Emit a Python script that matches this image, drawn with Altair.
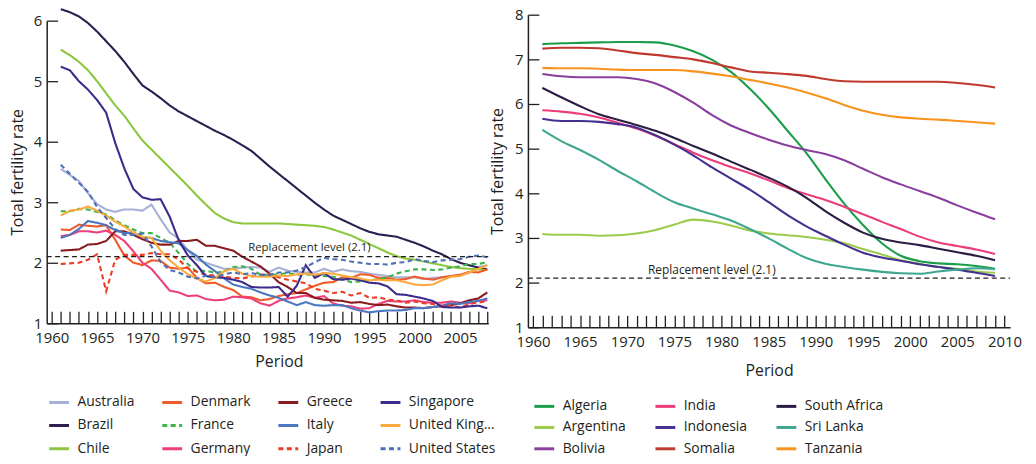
import altair as alt
import pandas as pd

FONT = "Open Sans"
INK = "#231f20"

# ---------------- left panel: developed / fast-transition countries ----------------
left_years = list(range(1961, 2009))
australia = [3.55, 3.45, 3.35, 3.15, 2.97, 2.88, 2.84, 2.88, 2.88, 2.86,
             2.96, 2.72, 2.50, 2.40, 2.20, 2.05, 2.00, 1.95, 1.90, 1.90,
             1.92, 1.93, 1.92, 1.85, 1.92, 1.87, 1.85, 1.84, 1.84, 1.90,
             1.85, 1.89, 1.86, 1.85, 1.82, 1.80, 1.78, 1.76, 1.76, 1.76,
             1.73, 1.75, 1.76, 1.78, 1.80, 1.83, 1.93, 1.96]
brazil = [6.19, 6.14, 6.07, 5.96, 5.82, 5.66, 5.50, 5.32, 5.12, 4.93,
          4.83, 4.72, 4.60, 4.50, 4.42, 4.34, 4.26, 4.18, 4.11, 4.03,
          3.94, 3.85, 3.72, 3.59, 3.47, 3.35, 3.23, 3.11, 2.99, 2.88,
          2.78, 2.71, 2.64, 2.57, 2.51, 2.47, 2.45, 2.43, 2.38, 2.33,
          2.27, 2.20, 2.14, 2.06, 2.00, 1.96, 1.92, 1.89]
chile = [5.52, 5.43, 5.32, 5.18, 5.00, 4.80, 4.60, 4.43, 4.22, 4.02,
         3.87, 3.72, 3.57, 3.42, 3.27, 3.11, 2.96, 2.82, 2.73, 2.67,
         2.65, 2.65, 2.65, 2.65, 2.65, 2.64, 2.63, 2.62, 2.61, 2.59,
         2.55, 2.50, 2.45, 2.38, 2.31, 2.24, 2.17, 2.11, 2.07, 2.05,
         2.02, 1.99, 1.96, 1.93, 1.91, 1.90, 1.89, 1.88]
denmark = [2.55, 2.54, 2.63, 2.61, 2.60, 2.62, 2.38, 2.12, 2.00, 1.96,
           2.04, 2.03, 1.92, 1.90, 1.92, 1.75, 1.66, 1.67, 1.60, 1.55,
           1.44, 1.43, 1.38, 1.40, 1.45, 1.48, 1.50, 1.56, 1.62, 1.67,
           1.68, 1.76, 1.75, 1.81, 1.80, 1.75, 1.75, 1.72, 1.73, 1.77,
           1.74, 1.72, 1.76, 1.78, 1.80, 1.85, 1.84, 1.89]
france = [2.85, 2.85, 2.89, 2.88, 2.84, 2.80, 2.70, 2.62, 2.55, 2.49,
          2.49, 2.41, 2.33, 2.16, 1.98, 1.85, 1.87, 1.83, 1.86, 1.93,
          1.94, 1.90, 1.80, 1.80, 1.81, 1.83, 1.80, 1.81, 1.79, 1.78,
          1.77, 1.73, 1.68, 1.69, 1.71, 1.73, 1.76, 1.82, 1.86, 1.89,
          1.89, 1.88, 1.89, 1.92, 1.94, 1.98, 1.98, 2.01]
germany = [2.44, 2.46, 2.52, 2.52, 2.50, 2.53, 2.46, 2.36, 2.19, 2.00,
           1.90, 1.72, 1.54, 1.51, 1.45, 1.46, 1.40, 1.38, 1.39, 1.44,
           1.43, 1.41, 1.33, 1.29, 1.37, 1.41, 1.43, 1.46, 1.42, 1.45,
           1.33, 1.29, 1.28, 1.24, 1.25, 1.32, 1.37, 1.36, 1.36, 1.38,
           1.35, 1.34, 1.34, 1.36, 1.34, 1.33, 1.37, 1.38]
greece = [2.20, 2.21, 2.22, 2.30, 2.31, 2.36, 2.52, 2.52, 2.46, 2.39,
          2.33, 2.30, 2.30, 2.36, 2.36, 2.38, 2.28, 2.28, 2.24, 2.20,
          2.10, 2.02, 1.94, 1.82, 1.68, 1.60, 1.50, 1.50, 1.42, 1.39,
          1.38, 1.37, 1.34, 1.35, 1.32, 1.30, 1.31, 1.28, 1.26, 1.26,
          1.25, 1.27, 1.28, 1.30, 1.33, 1.38, 1.41, 1.51]
italy = [2.41, 2.46, 2.56, 2.69, 2.66, 2.62, 2.54, 2.49, 2.50, 2.42,
         2.41, 2.36, 2.34, 2.32, 2.21, 2.11, 1.97, 1.86, 1.74, 1.64,
         1.60, 1.57, 1.51, 1.46, 1.42, 1.36, 1.30, 1.35, 1.30, 1.29,
         1.30, 1.30, 1.25, 1.21, 1.18, 1.20, 1.21, 1.21, 1.22, 1.25,
         1.25, 1.27, 1.29, 1.33, 1.32, 1.35, 1.37, 1.41]
japan = [1.98, 1.99, 2.00, 2.05, 2.14, 1.53, 2.05, 2.13, 2.13, 2.13,
         2.16, 2.14, 2.14, 2.05, 1.91, 1.85, 1.80, 1.79, 1.77, 1.75,
         1.74, 1.77, 1.80, 1.81, 1.76, 1.72, 1.69, 1.66, 1.57, 1.54,
         1.50, 1.52, 1.46, 1.50, 1.42, 1.43, 1.39, 1.38, 1.34, 1.36,
         1.33, 1.32, 1.29, 1.29, 1.26, 1.32, 1.34, 1.37]
singapore = [5.24, 5.18, 5.00, 4.86, 4.69, 4.48, 3.98, 3.56, 3.22, 3.08,
             3.04, 3.05, 2.76, 2.37, 2.12, 1.96, 1.78, 1.76, 1.75, 1.72,
             1.68, 1.60, 1.59, 1.59, 1.60, 1.44, 1.62, 1.96, 1.75, 1.83,
             1.73, 1.72, 1.74, 1.71, 1.67, 1.66, 1.61, 1.48, 1.47, 1.44,
             1.41, 1.37, 1.27, 1.26, 1.26, 1.28, 1.29, 1.25]
united_kingdom = [2.78, 2.86, 2.88, 2.93, 2.86, 2.78, 2.68, 2.60, 2.50, 2.43,
                  2.41, 2.20, 2.04, 1.92, 1.81, 1.74, 1.69, 1.75, 1.86, 1.90,
                  1.82, 1.78, 1.77, 1.77, 1.79, 1.78, 1.81, 1.82, 1.80, 1.83,
                  1.82, 1.79, 1.76, 1.74, 1.71, 1.72, 1.71, 1.71, 1.68, 1.64,
                  1.63, 1.64, 1.71, 1.77, 1.78, 1.84, 1.90, 1.96]
united_states = [3.62, 3.47, 3.32, 3.17, 2.92, 2.74, 2.56, 2.46, 2.46, 2.48,
                 2.27, 2.01, 1.88, 1.84, 1.77, 1.74, 1.79, 1.76, 1.81, 1.84,
                 1.81, 1.83, 1.80, 1.80, 1.84, 1.84, 1.87, 1.93, 2.01, 2.08,
                 2.06, 2.05, 2.02, 2.00, 1.98, 1.98, 1.97, 2.00, 2.01, 2.06,
                 2.03, 2.01, 2.04, 2.05, 2.06, 2.10, 2.12, 2.09]

left_series = {
    "Australia": australia, "Brazil": brazil, "Chile": chile,
    "Denmark": denmark, "France": france, "Germany": germany,
    "Greece": greece, "Italy": italy, "Japan": japan,
    "Singapore": singapore, "United Kingdom": united_kingdom,
    "United States": united_states,
}
# legend order (fills column by column, 4 columns x 3 rows)
left_order = ["Australia", "Brazil", "Chile", "Denmark", "France", "Germany",
              "Greece", "Italy", "Japan", "Singapore", "United Kingdom",
              "United States"]
left_colors = ["#a7b1d8", "#2c1e4e", "#8dc63f", "#f15a29", "#3bb44a", "#ee3f7b",
               "#8a1c1f", "#4b77c0", "#ee3b24", "#3c2a8c", "#fbaa3d", "#4f6fb9"]
SOLID = [1, 0]
DASH = [5, 3.5]
left_dashes = [SOLID, SOLID, SOLID, SOLID, DASH, SOLID,
               SOLID, SOLID, DASH, SOLID, SOLID, DASH]

# ---------------- right panel: high-fertility countries ----------------
right_years = list(range(1961, 2010, 2))
algeria = [7.34, 7.36, 7.37, 7.38, 7.39, 7.39, 7.38, 7.31, 7.18, 6.99,
           6.72, 6.34, 5.90, 5.40, 4.90, 4.32, 3.77, 3.29, 2.88, 2.60,
           2.48, 2.43, 2.41, 2.37, 2.31]
argentina = [3.09, 3.07, 3.07, 3.05, 3.06, 3.10, 3.18, 3.30, 3.41, 3.37,
             3.28, 3.17, 3.10, 3.06, 3.02, 2.96, 2.88, 2.75, 2.63, 2.50,
             2.42, 2.35, 2.31, 2.25, 2.22]
bolivia = [6.67, 6.62, 6.60, 6.60, 6.60, 6.56, 6.46, 6.27, 6.03, 5.75,
           5.52, 5.35, 5.20, 5.07, 4.97, 4.88, 4.74, 4.55, 4.36, 4.20,
           4.05, 3.90, 3.73, 3.57, 3.42]
india = [5.86, 5.83, 5.78, 5.70, 5.58, 5.45, 5.29, 5.10, 4.91, 4.74,
         4.59, 4.45, 4.29, 4.12, 3.98, 3.85, 3.70, 3.53, 3.36, 3.20,
         3.03, 2.90, 2.82, 2.74, 2.64]
indonesia = [5.67, 5.62, 5.62, 5.60, 5.55, 5.47, 5.30, 5.09, 4.85, 4.58,
             4.33, 4.08, 3.80, 3.51, 3.26, 3.05, 2.85, 2.67, 2.56, 2.49,
             2.41, 2.35, 2.29, 2.22, 2.15]
somalia = [7.24, 7.26, 7.26, 7.25, 7.20, 7.14, 7.10, 7.05, 7.00, 6.92,
           6.82, 6.73, 6.70, 6.67, 6.63, 6.56, 6.51, 6.50, 6.50, 6.50,
           6.50, 6.50, 6.47, 6.43, 6.37]
south_africa = [6.36, 6.15, 5.95, 5.77, 5.65, 5.53, 5.40, 5.24, 5.06, 4.89,
                4.71, 4.53, 4.35, 4.15, 3.90, 3.60, 3.34, 3.12, 2.98, 2.90,
                2.84, 2.76, 2.68, 2.60, 2.50]
sri_lanka = [5.42, 5.17, 4.97, 4.75, 4.50, 4.27, 4.02, 3.80, 3.66, 3.53,
             3.39, 3.20, 2.99, 2.76, 2.55, 2.42, 2.35, 2.29, 2.24, 2.21,
             2.20, 2.25, 2.29, 2.32, 2.30]
tanzania = [6.81, 6.80, 6.80, 6.79, 6.77, 6.76, 6.76, 6.76, 6.73, 6.68,
            6.62, 6.54, 6.46, 6.37, 6.26, 6.13, 5.98, 5.85, 5.76, 5.70,
            5.67, 5.65, 5.62, 5.59, 5.56]

right_series = {
    "Algeria": algeria, "Argentina": argentina, "Bolivia": bolivia,
    "India": india, "Indonesia": indonesia, "Somalia": somalia,
    "South Africa": south_africa, "Sri Lanka": sri_lanka, "Tanzania": tanzania,
}
right_order = ["Algeria", "Argentina", "Bolivia", "India", "Indonesia",
               "Somalia", "South Africa", "Sri Lanka", "Tanzania"]
right_colors = ["#1b9e4b", "#9ccb4b", "#8a3f9e", "#ec3d7a", "#45308f",
                "#bf3a2e", "#2b1d44", "#3fa790", "#f7941d"]

# ---------------- axis values / reference level ----------------
left_x_labels = list(range(1960, 2006, 5))
left_x_ticks = list(range(1960, 2009))
left_y_values = [1, 2, 3, 4, 5, 6]
right_x_labels = list(range(1960, 2011, 5))
right_x_ticks = list(range(1960, 2011))
right_y_values = [1, 2, 3, 4, 5, 6, 7, 8]
replacement_level = 2.1
replacement_text = "Replacement level (2.1)"
left_x_domain = [1959.45, 2008.1]
right_x_domain = [1959.47, 2010.6]

# ---------------- data frames ----------------
df_left = pd.DataFrame(
    [{"country": c, "year": y, "tfr": v}
     for c, vals in left_series.items() for y, v in zip(left_years, vals)]
)
df_right = pd.DataFrame(
    [{"nation": c, "year": y, "tfr": v}
     for c, vals in right_series.items() for y, v in zip(right_years, vals)]
)

lx = alt.Scale(domain=left_x_domain, range=[0, 445], nice=False, zero=False)
ly = alt.Scale(domain=[1, 6], range=[311, 6], nice=False, zero=False)
rx = alt.Scale(domain=right_x_domain, range=[485, 971], nice=False, zero=False)
ry = alt.Scale(domain=[1, 8], range=[315, 0], nice=False, zero=False)


def main_x_axis(values, offset, title_padding, title_x=None):
    kw = dict(orient="bottom", offset=offset, values=values, format="d",
              ticks=False, tickSize=0, domain=True, domainColor=INK,
              domainWidth=1.5, labelFont=FONT, labelFontSize=15,
              labelColor=INK, labelPadding=7, labelFlush=False,
              labelOverlap=False, grid=False, title="Period",
              titleFont=FONT, titleFontSize=16, titleFontWeight="normal",
              titleColor=INK, titlePadding=title_padding)
    if title_x is not None:
        kw["titleX"] = title_x
    return alt.Axis(**kw)


def tick_x_axis(values, offset):
    return alt.Axis(orient="bottom", offset=offset, values=values,
                    ticks=True, tickSize=12, tickColor=INK, tickWidth=1.3,
                    domain=False, labels=False, grid=False, title=None)


def main_y_axis(values, offset, title_padding):
    return alt.Axis(orient="left", offset=offset, values=values, format="d",
                    ticks=False, tickSize=0, domain=True, domainColor=INK,
                    domainWidth=1.5, labelFont=FONT, labelFontSize=15,
                    labelColor=INK, labelPadding=5, labelFlush=False,
                    labelOverlap=False, grid=False,
                    title="Total fertility rate", titleFont=FONT,
                    titleFontSize=16, titleFontWeight="normal",
                    titleColor=INK, titlePadding=title_padding)


def tick_y_axis(values, offset):
    return alt.Axis(orient="left", offset=offset, values=values,
                    ticks=True, tickSize=11, tickColor=INK, tickWidth=1.3,
                    domain=False, labels=False, grid=False, title=None)


def make_legend(x, y, cols, row_pad, col_pad):
    return alt.Legend(orient="none", legendX=x, legendY=y, columns=cols,
                      title=None, symbolType="stroke", symbolSize=400,
                      symbolStrokeWidth=3, labelFont=FONT, labelFontSize=14,
                      labelColor=INK, labelOffset=7, columnPadding=col_pad,
                      rowPadding=row_pad, padding=0, labelLimit=88)


# ---------------- left panel ----------------
left_lines = alt.Chart(df_left).mark_line(strokeWidth=2.1, clip=False).encode(
    x=alt.X("year:Q", scale=lx, axis=main_x_axis(left_x_labels, -4, 9, 234)),
    y=alt.Y("tfr:Q", scale=ly, axis=main_y_axis(left_y_values, 0, 8)),
    color=alt.Color("country:N",
                    scale=alt.Scale(domain=left_order, range=left_colors),
                    legend=make_legend(1, 379, 4, 4.5, 21)),
    strokeDash=alt.StrokeDash("country:N",
                              scale=alt.Scale(domain=left_order, range=left_dashes),
                              legend=make_legend(1, 379, 4, 4.5, 21)),
)
left_ref = pd.DataFrame({"x": [left_x_domain[0]], "x2": [left_x_domain[1]],
                         "y": [replacement_level]})
left_rule = alt.Chart(left_ref).mark_rule(
    color=INK, strokeWidth=1.3, strokeDash=[5, 3.5]
).encode(
    x=alt.X("x:Q", scale=lx, axis=tick_x_axis(left_x_ticks, -16)),
    x2="x2:Q",
    y=alt.Y("y:Q", scale=ly, axis=tick_y_axis(left_y_values, -11)),
)
left_lab = pd.DataFrame({"x": [1981.65], "y": [replacement_level],
                         "t": [replacement_text]})
left_text = alt.Chart(left_lab).mark_text(
    align="left", baseline="middle", dy=-9, font=FONT, fontSize=11.5, color=INK
).encode(
    x=alt.X("x:Q", scale=lx, axis=None),
    y=alt.Y("y:Q", scale=ly, axis=None),
    text="t:N",
)
left = alt.layer(left_lines, left_rule, left_text).resolve_axis(
    x="independent", y="independent")

# ---------------- right panel ----------------
right_lines = alt.Chart(df_right).mark_line(
    strokeWidth=2.1, clip=False, interpolate="monotone"
).encode(
    x=alt.X("year:Q", scale=rx, axis=main_x_axis(right_x_labels, 0, 14)),
    y=alt.Y("tfr:Q", scale=ry, axis=main_y_axis(right_y_values, -485, 9)),
    color=alt.Color("nation:N",
                    scale=alt.Scale(domain=right_order, range=right_colors),
                    legend=make_legend(490, 383, 3, 2.5, 23)),
)
right_ref = pd.DataFrame({"x": [right_x_domain[0]], "x2": [right_x_domain[1]],
                          "y": [replacement_level]})
right_rule = alt.Chart(right_ref).mark_rule(
    color=INK, strokeWidth=1.3, strokeDash=[5, 3.5]
).encode(
    x=alt.X("x:Q", scale=rx, axis=tick_x_axis(right_x_ticks, -12)),
    x2="x2:Q",
    y=alt.Y("y:Q", scale=ry, axis=tick_y_axis(right_y_values, -496)),
)
right_lab = pd.DataFrame({"x": [1972.2], "y": [replacement_level],
                          "t": [replacement_text]})
right_text = alt.Chart(right_lab).mark_text(
    align="left", baseline="middle", dy=-8, font=FONT, fontSize=12, color=INK
).encode(
    x=alt.X("x:Q", scale=rx, axis=None),
    y=alt.Y("y:Q", scale=ry, axis=None),
    text="t:N",
)
right = alt.layer(right_lines, right_rule, right_text).resolve_axis(
    x="independent", y="independent")

chart = (
    alt.layer(left, right)
    .resolve_scale(x="independent", y="independent",
                   color="independent", strokeDash="independent")
    .resolve_axis(x="independent", y="independent")
    .resolve_legend(color="independent", strokeDash="independent")
    .properties(
        width=971, height=315,
        autosize=alt.AutoSizeParams(type="none"),
        padding={"left": 39, "top": 5, "right": 18, "bottom": 128},
        background="white",
    )
    .configure_view(stroke=None)
)

chart.save("out.html", embed_options={"renderer": "svg", "actions": False})
